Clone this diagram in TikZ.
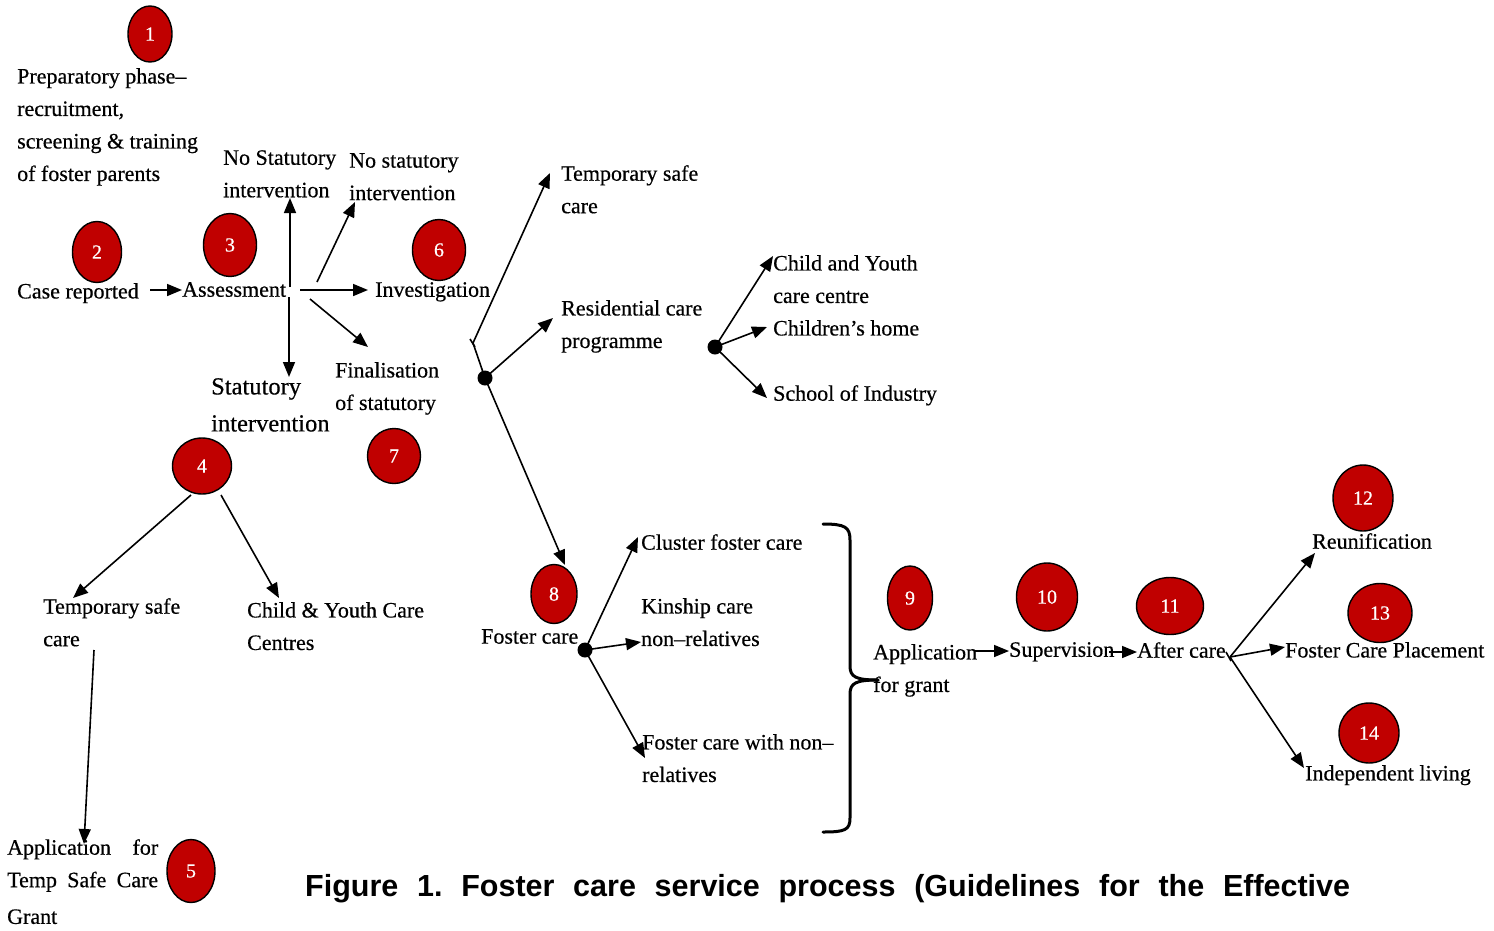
\documentclass[tikz,border=0pt]{standalone}
\usepackage{fontspec}
\setmainfont{Liberation Serif}[FakeBold=0.5]
\newfontfamily\capfont{Liberation Sans}
\usetikzlibrary{shapes.geometric,arrows.meta}
\definecolor{numred}{RGB}{192,0,0}
\begin{document}
\frenchspacing
\begin{tikzpicture}[x=1pt,y=-1pt,
 num/.style={ellipse,draw=black,line width=1.4pt,fill=numred,text=white,inner sep=0,font=\fontsize{20}{20}\selectfont},
 lbl/.style={anchor=north west,inner sep=0,align=left,font=\fontsize{22}{32.5}\selectfont},
 arr/.style={line width=1.6pt,-{Triangle[length=15pt,width=12pt]}},
 ln/.style={line width=1.6pt},
 dot/.style={circle,fill=black,inner sep=0,minimum size=15pt}]
\useasboundingbox (0,0) rectangle (1494,930);

% numbered circles
\node[num,minimum width=44pt,minimum height=56pt] (c1) at (150,34) {1};
\node[num,minimum width=49pt,minimum height=61pt] (c2) at (97,252) {2};
\node[num,minimum width=53pt,minimum height=63pt] (c3) at (230,245) {3};
\node[num,minimum width=59pt,minimum height=56pt] (c4) at (202,466) {4};
\node[num,minimum width=48pt,minimum height=63pt] (c5) at (191,871) {5};
\node[num,minimum width=53pt,minimum height=61pt] (c6) at (439,250) {6};
\node[num,minimum width=53pt,minimum height=55pt] (c7) at (394,456) {7};
\node[num,minimum width=46pt,minimum height=59pt] (c8) at (554,594) {8};
\node[num,minimum width=45pt,minimum height=64pt] (c9) at (910,598) {9};
\node[num,minimum width=61pt,minimum height=68pt] (c10) at (1047,597) {10};
\node[num,minimum width=67pt,minimum height=57pt] (c11) at (1170,606) {11};
\node[num,minimum width=60pt,minimum height=66pt] (c12) at (1363,498) {12};
\node[num,minimum width=64pt,minimum height=59pt] (c13) at (1380,613) {13};
\node[num,minimum width=60pt,minimum height=60pt] (c14) at (1369,733) {14};

% labels
\node[lbl] (prep) at (17,68) {Preparatory phase–\\recruitment,\\screening \& training\\of foster parents};
\node[lbl] (nsi1) at (223,150) {No Statutory\\intervention};
\node[lbl] (nsi2) at (349,153) {No statutory\\intervention};
\node[lbl] (case) at (17,283) {Case reported};
\node[lbl] (assess) at (182,282) {Assessment};
\node[lbl] (invest) at (375,282) {Investigation};
\node[lbl,font=\fontsize{24.5}{37}\selectfont] (stat) at (211,378) {Statutory\\intervention};
\node[lbl] (final) at (335,362) {Finalisation\\of statutory};
\node[lbl] (tsc1) at (561,165) {Temporary safe\\care};
\node[lbl] (resid) at (561,300) {Residential care\\programme};
\node[lbl] (cyc) at (773,255) {Child and Youth\\care centre};
\node[lbl] (chome) at (773,320) {Children's home};
\node[lbl] (school) at (773,385) {School of Industry};
\node[lbl] (tsc2) at (43,598) {Temporary safe\\care};
\node[lbl] (cycc) at (247,602) {Child \& Youth Care\\Centres};
\node[lbl,text width=151pt,align=justify] (apptsc) at (7,839) {Application for Temp Safe Care\linebreak\rule{0pt}{31pt}Grant};
\node[lbl] (foster) at (481,629) {Foster care};
\node[lbl] (cluster) at (641,534) {Cluster foster care};
\node[lbl] (kin) at (641,598) {Kinship care\\non–relatives};
\node[lbl] (fcw) at (642,734) {Foster care with non–\\relatives};
\node[lbl] (appg) at (873,644) {Application\\for grant};
\node[lbl] (superv) at (1009,642) {Supervision};
\node[lbl] (after) at (1137,642) {After care};
\node[lbl] (reun) at (1312,533) {Reunification};
\node[lbl] (fcp) at (1285,642) {Foster Care Placement};
\node[lbl] (indep) at (1305,765) {Independent living};

% caption
\node[anchor=base west,inner sep=0,font=\capfont\bfseries\fontsize{30.5}{30}\selectfont] (cap) at (305,896)
 {\makebox[1045pt][s]{Figure 1. Foster care service process (Guidelines for the Effective}};

% junction points
\node[dot] (d1) at (485,378) {};
\node[dot] (d2) at (715,347) {};
\node[dot] (d3) at (585,650) {};
\coordinate (j1) at (473,343);
\coordinate (j2) at (1230,657);

% connector end points
\coordinate (p1) at (150,290); \coordinate (p1e) at (182,290);
\coordinate (p2) at (290,287); \coordinate (p2e) at (290,198);
\coordinate (p3) at (289,297); \coordinate (p3e) at (289,377);
\coordinate (p4) at (317,282); \coordinate (p4e) at (355,202);
\coordinate (p5) at (300,290); \coordinate (p5e) at (368,290);
\coordinate (p6) at (310,299); \coordinate (p6e) at (368,347);
\coordinate (t1) at (550,173);
\coordinate (t2) at (553,318);
\coordinate (t3) at (565,565);
\coordinate (t4) at (773,256);
\coordinate (t5) at (767,327);
\coordinate (t6) at (767,398);
\coordinate (q1) at (191,495); \coordinate (q1e) at (73,598);
\coordinate (q2) at (221,495); \coordinate (q2e) at (279,598);
\coordinate (q3) at (94,650); \coordinate (q3e) at (84,844);
\coordinate (f1) at (638,537);
\coordinate (f2) at (641,642);
\coordinate (f3) at (645,758);
\coordinate (g1) at (975,651); \coordinate (g1e) at (1009,651);
\coordinate (g2) at (1109,652); \coordinate (g2e) at (1137,652);
\coordinate (r1) at (1315,553);
\coordinate (r2) at (1285,647);
\coordinate (r3) at (1304,768);

% connectors
\draw[arr] (p1) -- (p1e);
\draw[arr] (p2) -- (p2e);
\draw[arr] (p3) -- (p3e);
\draw[arr] (p4) -- (p4e);
\draw[arr] (p5) -- (p5e);
\draw[arr] (p6) -- (p6e);
\draw[arr] (j1) -- (t1);
\draw[ln] (j1) -- (d1.center);
\draw[ln] (470,339) -- (475,347);
\draw[arr] (d1.center) -- (t2);
\draw[arr] (d1.center) -- (t3);
\draw[arr] (d2.center) -- (t4);
\draw[arr] (d2.center) -- (t5);
\draw[arr] (d2.center) -- (t6);
\draw[arr] (q1) -- (q1e);
\draw[arr] (q2) -- (q2e);
\draw[arr] (q3) -- (q3e);
\draw[arr] (d3.center) -- (f1);
\draw[arr] (d3.center) -- (f2);
\draw[arr] (d3.center) -- (f3);
\draw[arr] (g1) -- (g1e);
\draw[arr] (g2) -- (g2e);
\draw[arr] (j2) -- (r1);
\draw[arr] (j2) -- (r2);
\draw[arr] (j2) -- (r3);
\draw[ln] (1226,652) -- (1231,661);

% brace
\coordinate (bt) at (823,524);
\coordinate (bb) at (823,832);
\coordinate (bp) at (878,680);
\draw[line width=3pt,line cap=round] (bt) .. controls (845,524) and (850,527) .. (850,540) -- (850,666)
  .. controls (850,677) and (856,680) .. (bp);
\draw[line width=3pt,line cap=round] (bp) .. controls (856,680) and (850,683) .. (850,694) -- (850,818)
  .. controls (850,830) and (845,832) .. (bb);
\end{tikzpicture}
\end{document}
